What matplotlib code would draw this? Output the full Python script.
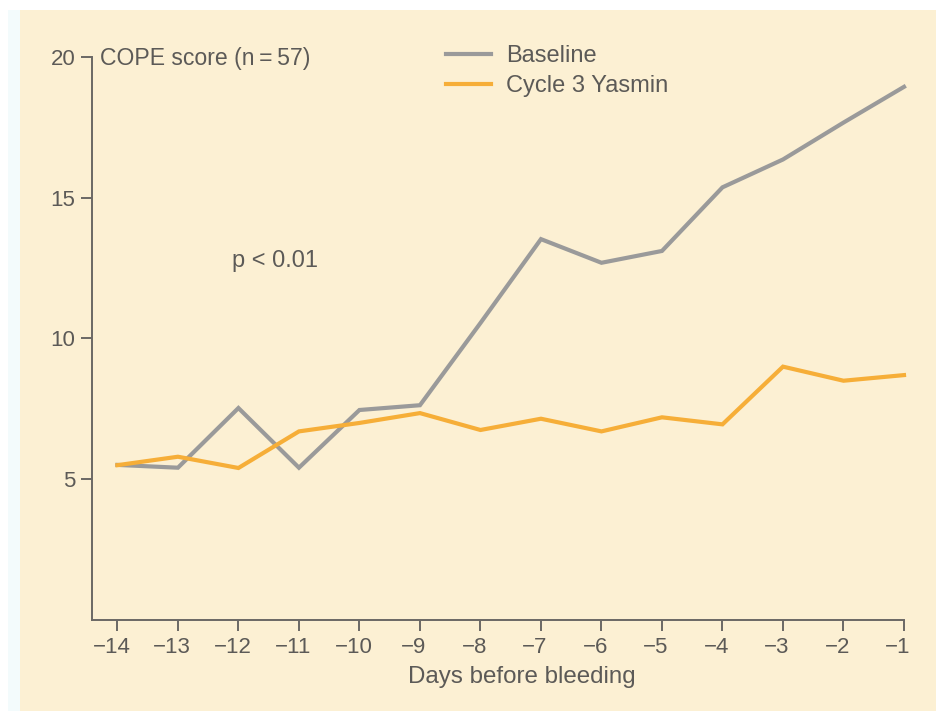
import matplotlib
matplotlib.use("Agg")
import matplotlib.pyplot as plt
from matplotlib.transforms import ScaledTranslation
from matplotlib.patches import Rectangle

days = [-14, -13, -12, -11, -10, -9, -8, -7, -6, -5, -4, -3, -2, -1]
baseline = [5.51, 5.41, 7.53, 5.41, 7.46, 7.63, 10.55, 13.53, 12.69, 13.11, 15.37, 16.36, 17.67, 18.94]
yasmin = [5.5, 5.8, 5.4, 6.7, 7.0, 7.35, 6.75, 7.15, 6.7, 7.2, 6.95, 9.0, 8.5, 8.7]
yticks = [5, 10, 15, 20]

plt.rcParams['font.family'] = ['Liberation Sans', 'DejaVu Sans']
TXT = '#5c5a57'
AX = '#6b6865'
BG = '#fcf0d3'
GRAY = '#9a9a9a'
ORANGE = '#f6ae38'

fig = plt.figure(figsize=(9.36, 7.11), dpi=100)
fig.patch.set_facecolor('white')
fig.patches.append(Rectangle((8/936, 0), 12/936, 1 - 10/711, transform=fig.transFigure,
                             facecolor='#f3fbfc', edgecolor='none', zorder=-10))
fig.patches.append(Rectangle((20/936, 0), 1, 1 - 10/711, transform=fig.transFigure,
                             facecolor=BG, edgecolor='none', zorder=-10))

ax = fig.add_axes([92/936, (711-620)/711, (904-92)/936, (620-57)/711])
ax.set_facecolor('none')

l1, = ax.plot(days, baseline, color=GRAY, lw=3, solid_joinstyle='miter', clip_on=False, label='Baseline')
l2, = ax.plot(days, yasmin, color=ORANGE, lw=3, solid_joinstyle='miter', clip_on=False, label='Cycle 3 Yasmin')

ax.set_xlim(-14.42, -1)
ax.set_ylim(0, 20)
ax.set_xticks(days)
ax.set_yticks(yticks)
ax.spines['top'].set_visible(False)
ax.spines['right'].set_visible(False)
for s in ['left', 'bottom']:
    ax.spines[s].set_color(AX)
    ax.spines[s].set_linewidth(1.4)
ax.tick_params(direction='out', length=8, width=1.4, color=AX, labelcolor=TXT, labelsize=16)
ax.tick_params(axis='x', pad=4)
ax.tick_params(axis='y', pad=4)

off = ScaledTranslation(-6/100, 0, fig.dpi_scale_trans)
for lab in ax.get_xticklabels():
    lab.set_transform(lab.get_transform() + off)

ax.text(100/936, (711-58)/711, 'COPE score (n\u2009=\u200957)', transform=fig.transFigure,
        fontsize=16.6, color=TXT, ha='left', va='center')
ax.text(-12.11, 12.75, 'p < 0.01', fontsize=17, color=TXT, ha='left', va='center')
fig.text(522/936, (711-677)/711, 'Days before bleeding', fontsize=17.4, color=TXT, ha='center', va='center')

leg = ax.legend(handles=[l1, l2], loc='upper left', bbox_to_anchor=(446/936, (711-45)/711),
                bbox_transform=fig.transFigure, frameon=False, fontsize=17,
                handlelength=1.9, handletextpad=0.65, labelspacing=0.35, borderaxespad=0, borderpad=0)
for t in leg.get_texts():
    t.set_color(TXT)

fig.savefig('out.png', dpi=100, facecolor=fig.get_facecolor())
